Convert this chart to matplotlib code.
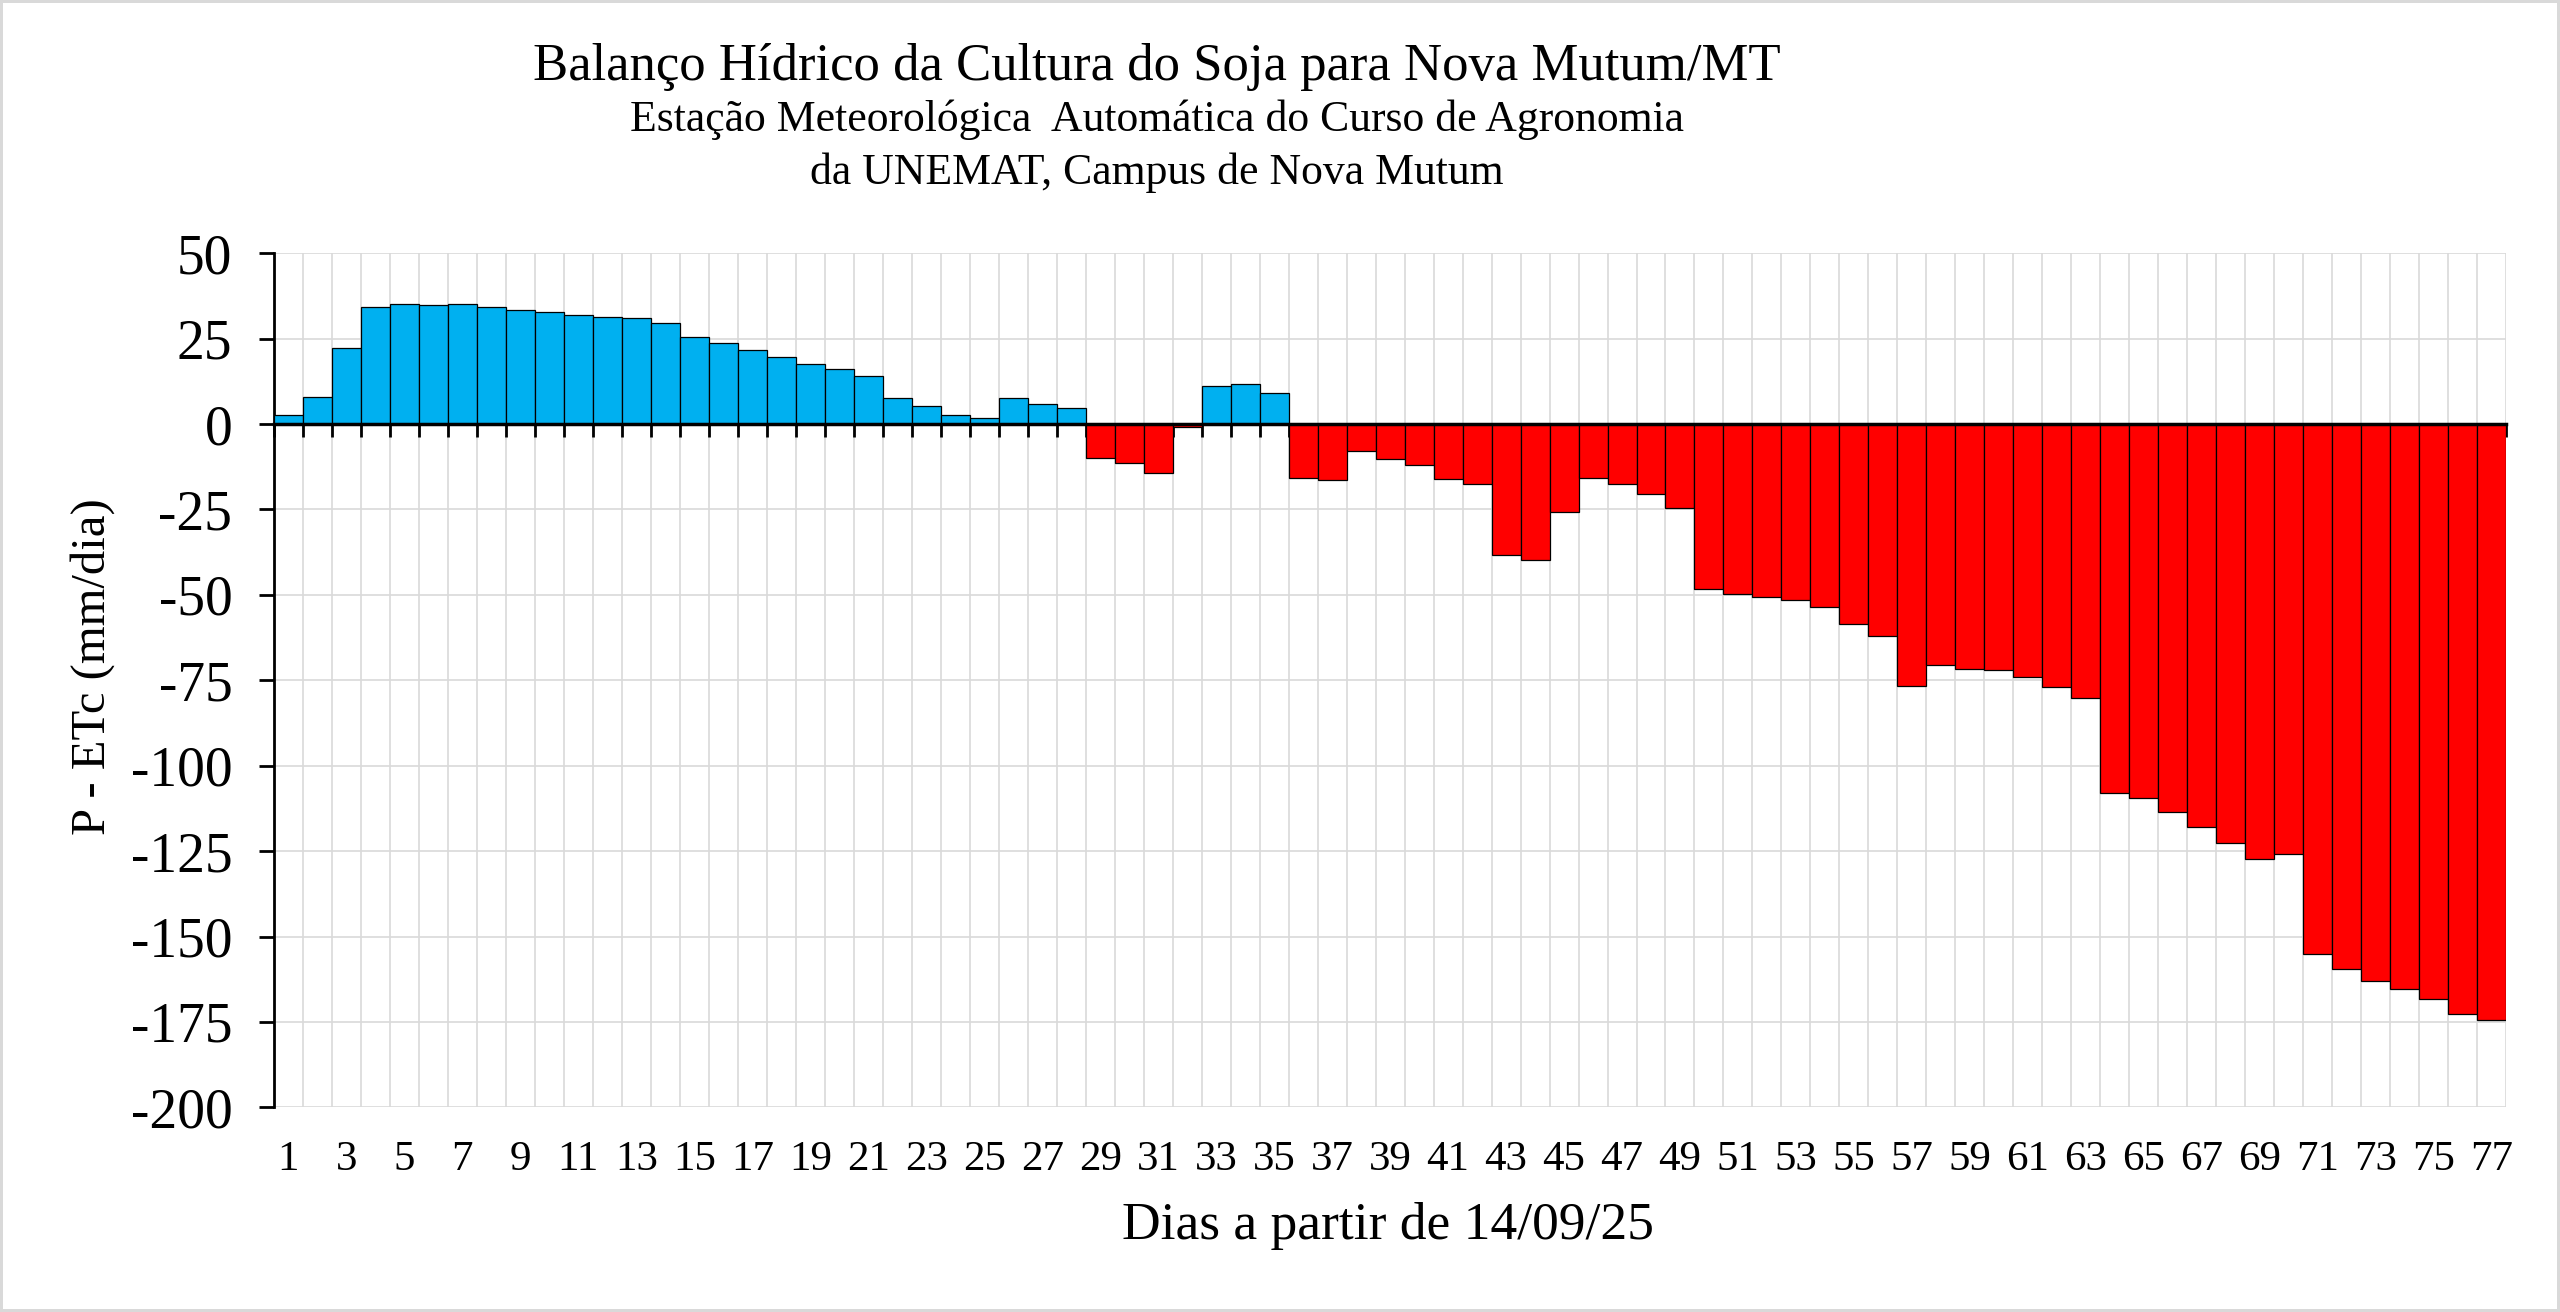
import numpy as np
import matplotlib
matplotlib.use("Agg")
import matplotlib.pyplot as plt

# ---------- Data ----------
days = list(range(1, 78))
balance = [
    2.5, 7.8, 22.4, 34.2, 35.1, 34.8, 35.1, 34.2, 33.5, 32.8,
    32.0, 31.4, 31.1, 29.7, 25.5, 23.7, 21.8, 19.5, 17.7, 16.1,
    14.1, 7.5, 5.3, 2.7, 1.8, 7.5, 5.9, 4.7, -9.8, -11.5,
    -14.3, -0.9, 11.0, 11.6, 9.0, -15.8, -16.3, -8.0, -10.2, -12.1,
    -16.1, -17.5, -38.4, -39.9, -25.7, -15.8, -17.5, -20.6, -24.5, -48.4,
    -49.8, -50.7, -51.6, -53.6, -58.6, -62.1, -76.6, -70.6, -71.7, -72.1,
    -74.0, -76.9, -80.3, -107.9, -109.6, -113.6, -117.9, -122.7, -127.3, -125.9,
    -155.1, -159.4, -163.0, -165.4, -168.4, -172.6, -174.3,
]
x_labels = [str(d) for d in days[::2]]
y_ticks = list(range(-200, 51, 25))

TITLE = "Balanço Hídrico da Cultura do Soja para Nova Mutum/MT"
SUB1 = "Estação Meteorológica  Automática do Curso de Agronomia"
SUB2 = "da UNEMAT, Campus de Nova Mutum"
XLABEL = "Dias a partir de 14/09/25"
YLABEL = "P - ETc (mm/dia)"

BLUE = "#00B0F0"
RED = "#FF0000"
GRID = "#D9D9D9"

plt.rcParams['font.family'] = ['Liberation Serif', 'DejaVu Serif']
plt.rcParams['axes.unicode_minus'] = False

# ---------- Figure ----------
fig = plt.figure(figsize=(25.6, 13.12), dpi=100)
fig.patch.set_edgecolor(GRID)
fig.patch.set_linewidth(3)
ax = fig.add_axes([0.107, 0.156, 0.872, 0.651])

colors = [BLUE if v >= 0 else RED for v in balance]
ax.bar(days, balance, width=1.0, color=colors, edgecolor='black',
       linewidth=0.9, zorder=3)

ax.set_xlim(0.5, len(days) + 0.5)
ax.set_ylim(-200, 50)

# category boundaries as major ticks (grid + marks on the zero line)
edges = np.arange(0.5, len(days) + 1, 1.0)
ax.set_xticks(edges)
ax.tick_params(axis='x', which='major', direction='out', length=9.5,
               width=2, color='black', labelbottom=False)
ax.set_yticks(y_ticks)
ax.tick_params(axis='y', direction='out', length=11, width=2,
               labelsize=40, pad=19)
ax.grid(True, color=GRID, linewidth=1.2, zorder=0)

for s in ['top', 'right']:
    ax.spines[s].set_visible(False)
ax.spines['left'].set_linewidth(2)
ax.spines['bottom'].set_position(('data', 0))
ax.spines['bottom'].set_linewidth(2.5)
ax.spines['bottom'].set_zorder(4)

# day labels along the bottom of the plot area
sec = ax.secondary_xaxis(0)
sec.set_xticks(days[::2], x_labels)
sec.tick_params(length=0, labelsize=31, pad=24)
sec.spines['bottom'].set_visible(False)

fig.text(0.542, 0.0655, XLABEL, ha='center', va='center', fontsize=38.5)
fig.text(0.036, 0.492, YLABEL, ha='center', va='center', fontsize=35,
         rotation=90)

fig.text(0.452, 0.949, TITLE, ha='center', va='center', fontsize=38)
fig.text(0.452, 0.9085, SUB1, ha='center', va='center', fontsize=31.5)
fig.text(0.452, 0.868, SUB2, ha='center', va='center', fontsize=31.5)

plt.savefig("out.png", dpi=100, edgecolor=fig.get_edgecolor())
